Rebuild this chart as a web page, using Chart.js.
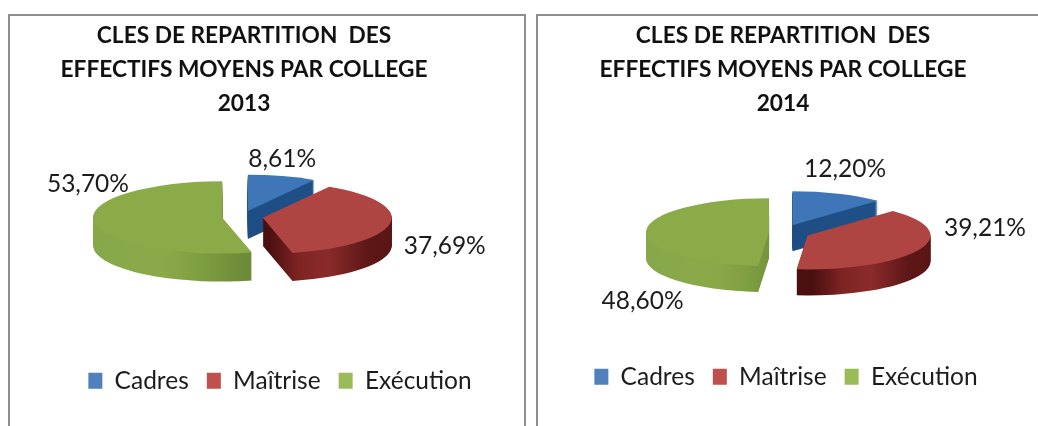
<!DOCTYPE html>
<html lang="fr">
<head>
<meta charset="utf-8">
<script src="https://cdn.jsdelivr.net/npm/chart.js@4"></script>
<style>
html,body{margin:0;padding:0;background:#fff;overflow:hidden;width:1038px;height:426px}
.panel{position:absolute;box-sizing:border-box;border:2px solid #8e8e8e;border-bottom:none;background:#fff}
.wrap{position:absolute;top:0;height:426px;filter:blur(0.45px)}
</style>
</head>
<body>
<div class="panel" style="left:8px;top:14px;width:518px;height:412px"></div>
<div class="panel" style="left:536px;top:14px;width:520px;height:412px"></div>
<div class="wrap" style="left:-20px;width:524px"><canvas id="c2013"></canvas></div>
<div class="wrap" style="left:530px;width:504px"><canvas id="c2014"></canvas></div>
<script>
const categories = ['Cadres', 'Maîtrise', 'Exécution'];
const values2013 = [8.61, 37.69, 53.70];
const values2014 = [12.20, 39.21, 48.60];
const titleLines = ['CLES DE REPARTITION  DES', 'EFFECTIFS MOYENS PAR COLLEGE'];
const legendColors = ['#4F81BD', '#C0504D', '#9BBB59'];
const topColors = ['#3F76B7', '#AF4543', '#8BAB48'];
const FONT = 'Lato, Carlito, "Open Sans", sans-serif';

const pie3d = {
  id: 'pie3d',
  beforeDatasetDraw(chart, args, o) {
    const ctx = chart.ctx, arcs = chart.getDatasetMeta(0).data;
    const cx = arcs[0].x, cy = arcs[0].y;
    ctx.save();
    ctx.translate(cx, cy); ctx.scale(1, o.tilt); ctx.translate(-cx, -cy);
    const x0 = cx - o.radius - 20, x1 = cx + o.radius + 20;
    const sideStops = [
      [[0, '#1B4A80'], [1, '#1F5188']],
      [[0.52, '#4A0F0F'], [0.62, '#7E2423'], [0.72, '#8A2B2A'], [0.85, '#5E1717'], [1, '#551313']],
      [[0, '#86A748'], [0.3, '#8AAA4A'], [0.42, '#7F9F42'], [0.58, '#6C8A38'], [1, '#6C8A38']]
    ];
    arcs.forEach((arc, i) => {
      const mid = (arc.startAngle + arc.endAngle) / 2;
      const g = ctx.createLinearGradient(x0, 0, x1, 0);
      sideStops[i].forEach(s => g.addColorStop(s[0], s[1]));
      const saved = arc.options;
      ctx.save();
      ctx.translate(Math.cos(mid) * o.explode[i], Math.sin(mid) * o.explode[i]);
      arc.options = Object.assign({}, saved, { backgroundColor: g });
      for (let d = o.depth; d > 0; d -= 1) {
        ctx.save();
        ctx.translate(0, d / o.tilt);
        arc.draw(ctx);
        ctx.restore();
      }
      arc.options = saved;
      ctx.restore();
    });
    arcs.forEach((arc, i) => {
      const mid = (arc.startAngle + arc.endAngle) / 2;
      ctx.save();
      ctx.translate(Math.cos(mid) * o.explode[i], Math.sin(mid) * o.explode[i]);
      arc.draw(ctx);
      ctx.restore();
    });
    ctx.restore();
    return false;
  },
  afterLayout(chart, args, o) {
    const shift = (box, s) => { box.left += s[0]; box.right += s[0]; box.top += s[1]; box.bottom += s[1]; };
    shift(chart.titleBlock, o.titleShift);
    shift(chart.legend, o.legendShift);
  },
  afterDraw(chart, args, o) {
    const ctx = chart.ctx, arcs = chart.getDatasetMeta(0).data;
    ctx.save();
    ctx.font = '400 ' + o.labelSize + 'px ' + FONT;
    ctx.fillStyle = '#1c1c1c';
    ctx.textAlign = 'center';
    ctx.textBaseline = 'middle';
    arcs.forEach((arc, i) => {
      const p = arc.getCenterPoint();
      const v = chart.data.datasets[0].data[i];
      ctx.fillText(v.toFixed(2).replace('.', ',') + '%',
        p.x + o.labelNudge[i][0],
        arc.y + (p.y - arc.y) * o.tilt + o.labelNudge[i][1]);
    });
    ctx.restore();
  }
};

function makeChart(id, year, values, w, conf) {
  const cv = document.getElementById(id);
  cv.width = w; cv.height = 426; cv.style.width = w + 'px'; cv.style.height = '426px';
  return new Chart(cv, {
    type: 'pie',
    data: { labels: categories, datasets: [{
      data: values, backgroundColor: topColors, borderWidth: 0,
      clip: false, radius: conf.radius
    }] },
    plugins: [pie3d],
    options: {
      responsive: false, animation: false,
      layout: { padding: { bottom: conf.padBottom } },
      plugins: {
        tooltip: { enabled: false },
        title: { display: true, text: titleLines.concat(String(year)), color: '#111',
          font: { family: FONT, size: 22.7, weight: '700', lineHeight: 1.5 }, padding: { top: 19, bottom: 0 } },
        legend: { position: 'bottom', labels: {
          boxWidth: 14, boxHeight: 16, padding: 18, color: '#1c1c1c',
          font: { family: FONT, size: 24.5 },
          generateLabels(chart) {
            return Chart.overrides.pie.plugins.legend.labels.generateLabels(chart)
              .map((it, i) => Object.assign(it, { fillStyle: legendColors[i], lineWidth: 0 }));
          } } },
        pie3d: conf
      }
    }
  });
}

makeChart('c2013', 2013, values2013, 524, {
  radius: 129, tilt: 0.28, depth: 28, explode: [22, 21, 20], padBottom: 61, labelSize: 24.5,
  titleShift: [2, 0], legendShift: [38, 38],
  labelNudge: [[23, -40], [139, 26], [-90, -35]]
});
makeChart('c2014', 2014, values2014, 504, {
  radius: 123, tilt: 0.276, depth: 26, explode: [28, 28, 13], padBottom: 30, labelSize: 24.5,
  titleShift: [1, 0], legendShift: [4, 3],
  labelNudge: [[40, -47], [147, -11], [-78, 70]]
});
</script>
</body>
</html>
